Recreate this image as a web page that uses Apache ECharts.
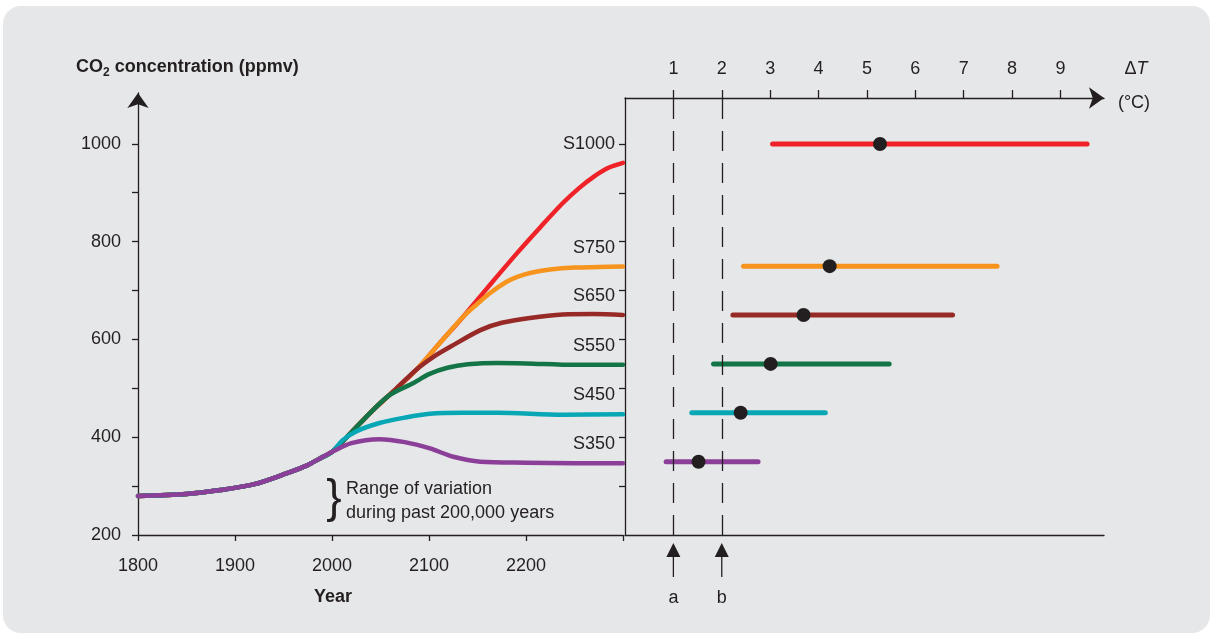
<!DOCTYPE html>
<html><head><meta charset="utf-8">
<script src="https://cdn.jsdelivr.net/npm/echarts@6/dist/echarts.min.js"></script>
<style>
html,body{margin:0;padding:0;background:#fff;width:1212px;height:635px;overflow:hidden}
#bg{position:absolute;left:3px;top:6px;width:1207px;height:627px;background:#e6e7e9;border-radius:18px}
#chart{position:absolute;left:0;top:0;width:1212px;height:635px}
</style></head><body><div id="bg"></div><div id="chart"></div>
<script>
// ---- data ----
const histYears = [1800, 1850, 1885, 1920, 1953, 1975, 1988, 2000];
const histCO2   = [280, 284, 292, 304, 326, 343, 357, 370];

const s1000Years = [2020, 2042, 2065, 2088, 2110, 2135, 2160, 2191, 2215, 2238, 2255, 2270, 2285, 2300];
const s1000CO2   = [410, 455, 497, 540, 590, 646, 705, 777, 830, 879, 910, 933, 951, 961];
const s750Years  = [2020, 2042, 2065, 2088, 2110, 2135, 2150, 2163, 2180, 2191, 2204, 2225, 2250, 2275, 2300];
const s750CO2    = [410, 455, 497, 540, 590, 646, 673, 695, 718, 728, 736, 743, 747, 748, 749];
const s650Years  = [2020, 2042, 2065, 2088, 2105, 2122, 2153, 2175, 2204, 2238, 2270, 2300];
const s650CO2    = [410, 455, 497, 540, 565, 585, 619, 634, 644, 651, 652, 650];
const s550Years  = [2020, 2042, 2060, 2084, 2100, 2119, 2140, 2170, 2200, 2250, 2300];
const s550CO2    = [410, 455, 487, 511, 529, 542, 549, 552, 551, 548, 548];
const s450Years  = [2011, 2025, 2049, 2075, 2101, 2135, 2170, 2238, 2300];
const s450CO2    = [394, 412, 429, 440, 448, 450, 450, 446, 447];
const s350Years  = [2020, 2049, 2075, 2101, 2125, 2153, 2200, 2250, 2300];
const s350CO2    = [388, 396, 390, 377, 360, 350, 348, 347, 347];

const scenarios   = ['S1000', 'S750', 'S650', 'S550', 'S450', 'S350'];
const scenarioCO2 = [1000, 750, 650, 550, 450, 350];
const dtLow  = [3.05, 2.45, 2.23, 1.83, 1.38, 0.85];
const dtHigh = [9.55, 7.69, 6.77, 5.46, 4.14, 2.75];
const dtBest = [5.27, 4.23, 3.69, 3.01, 2.39, 1.52];
const markers = ['a', 'b'];
const markerDT = [1, 2];

const yTicks = [200, 300, 400, 500, 600, 700, 800, 900, 1000];
const yLabels = [200, 400, 600, 800, 1000];
const xTicks = [1800, 1900, 2000, 2100, 2200, 2300];
const xLabels = [1800, 1900, 2000, 2100, 2200];
const dtTicks = [1, 2, 3, 4, 5, 6, 7, 8, 9];
const rightYTicks = [300, 400, 500, 600, 700, 800, 900, 1000];

// ---- style ----
const colors = ['#ee2227', '#f7941e', '#972a27', '#137547', '#08a7b5', '#8c3f98'];
const INK = '#231f20';
const FONT = "'Liberation Sans Narrow','Liberation Sans',Arial,sans-serif";
const FS = 18;

const seriesYears = [s1000Years, s750Years, s650Years, s550Years, s450Years, s350Years];
const seriesCO2 = [s1000CO2, s750CO2, s650CO2, s550CO2, s450CO2, s350CO2];

const chart = echarts.init(document.getElementById('chart'), null, {renderer: 'canvas'});

const series = [];
scenarios.forEach((name, k) => {
  const ys = histYears.concat(seriesYears[k]);
  const vs = histCO2.concat(seriesCO2[k]);
  const data = ys.map((y, i) => [y, vs[i]]);
  const last = data.length - 1;
  data[last] = {value: data[last], label: {show: true, formatter: name}};
  series.push({
    type: 'line', name, xAxisIndex: 0, yAxisIndex: 0,
    data, smooth: 0.3,
    showSymbol: true, symbolSize: 0, symbol: 'circle',
    lineStyle: {color: colors[k], width: 4.5, cap: 'round', join: 'round'},
    itemStyle: {color: colors[k]},
    label: {show: false, position: 'top', align: 'right', offset: [-8, -5],
            color: INK, fontSize: FS, fontFamily: FONT},
    emphasis: {disabled: true}, silent: true, z: 2 + k
  });
});
scenarios.forEach((name, k) => {
  series.push({
    type: 'line', name: name + ' range', xAxisIndex: 1, yAxisIndex: 1,
    data: [[dtLow[k], scenarioCO2[k]], [dtHigh[k], scenarioCO2[k]]],
    symbol: 'none',
    lineStyle: {color: colors[k], width: 5, cap: 'round'},
    emphasis: {disabled: true}, silent: true, z: 3
  });
});
series.push({
  type: 'scatter', name: 'best', xAxisIndex: 1, yAxisIndex: 1,
  data: dtBest.map((d, k) => [d, scenarioCO2[k]]),
  symbolSize: 14, itemStyle: {color: INK, opacity: 1},
  emphasis: {disabled: true}, silent: true, z: 5,
  markLine: {
    silent: true, symbol: 'none', label: {show: false},
    lineStyle: {color: INK, width: 1.3, type: [20, 12]},
    data: markerDT.map(v => ({xAxis: v}))
  }
});

const axisLineStyle = {color: INK, width: 1.3};
const labelStyle = {color: INK, fontSize: FS, fontFamily: FONT, formatter: v => String(v)};

chart.setOption({
  animation: false,
  grid: [
    {left: 138, right: 589, top: 93, bottom: 100},
    {left: 625, right: 108, top: 98, bottom: 100}
  ],
  xAxis: [
    {type: 'value', gridIndex: 0, min: 1800, max: 2300, interval: 100,
     axisLine: {lineStyle: axisLineStyle},
     axisTick: {length: 6, lineStyle: axisLineStyle, customValues: xTicks},
     axisLabel: Object.assign({margin: 22, customValues: xLabels}, labelStyle),
     splitLine: {show: false}},
    {type: 'value', gridIndex: 1, position: 'bottom', min: 0, max: 9.9,
     axisLine: {lineStyle: axisLineStyle}, axisTick: {show: false},
     axisLabel: {show: false}, splitLine: {show: false}},
    {type: 'value', gridIndex: 1, position: 'top', min: 0, max: 9.9, interval: 1,
     axisLine: {lineStyle: axisLineStyle, symbol: ['none', 'arrow'], symbolSize: [16, 15]},
     axisTick: {length: 8, lineStyle: axisLineStyle, customValues: dtTicks},
     axisLabel: Object.assign({margin: 20, customValues: dtTicks}, labelStyle),
     splitLine: {show: false}}
  ],
  yAxis: [
    {type: 'value', gridIndex: 0, min: 200, max: 1104, interval: 100,
     axisLine: {show: true, lineStyle: axisLineStyle, symbol: ['none', 'arrow'], symbolSize: [16, 15]},
     axisTick: {show: true, length: 6, lineStyle: axisLineStyle, customValues: yTicks},
     axisLabel: Object.assign({margin: 17, customValues: yLabels}, labelStyle),
     splitLine: {show: false}},
    {type: 'value', gridIndex: 1, min: 200, max: 1094, interval: 100, offset: 2,
     axisLine: {show: true, lineStyle: axisLineStyle},
     axisTick: {show: true, length: 6, lineStyle: axisLineStyle, customValues: rightYTicks},
     axisLabel: {show: false}, splitLine: {show: false}}
  ],
  series
});

// annotation graphics (positions of a/b arrows derived from the axis scale)
const graphics = [
  {type: 'text', left: 76, top: 58, style: {
    text: '{a|CO}{s|2}{a| concentration (ppmv)}',
    rich: {
      a: {fontSize: 18, fontWeight: 'bold', fontFamily: FONT, fill: INK, lineHeight: 24},
      s: {fontSize: 12, fontWeight: 'bold', fontFamily: FONT, fill: INK, lineHeight: 24, verticalAlign: 'bottom'}
    }}},
  {type: 'text', x: 333, y: 597, style: {text: 'Year', fontSize: FS, fontWeight: 'bold', fontFamily: FONT, fill: INK, align: 'center', verticalAlign: 'middle'}},
  {type: 'text', x: 1136, y: 69, style: {text: '{d|Δ}{t|T}', align: 'center', verticalAlign: 'middle',
    rich: {d: {fontSize: FS, fontFamily: FONT, fill: INK}, t: {fontSize: FS, fontStyle: 'italic', fontFamily: FONT, fill: INK}}}},
  {type: 'text', x: 1134, y: 103, style: {text: '(°C)', fontSize: FS, fontFamily: FONT, fill: INK, align: 'center', verticalAlign: 'middle'}},
  {type: 'text', x: 334, y: 499, style: {text: '}', fontSize: 46, fontWeight: 'normal', fontFamily: FONT, fill: INK, align: 'center', verticalAlign: 'middle'}},
  {type: 'text', x: 346, y: 489, style: {text: 'Range of variation', fontSize: FS, fontFamily: FONT, fill: INK, align: 'left', verticalAlign: 'middle'}},
  {type: 'text', x: 346, y: 513, style: {text: 'during past 200,000 years', fontSize: FS, fontFamily: FONT, fill: INK, align: 'left', verticalAlign: 'middle'}}
];
markers.forEach((m, i) => {
  const px = chart.convertToPixel({xAxisIndex: 1}, markerDT[i]);
  graphics.push(
    {type: 'polygon', shape: {points: [[px, 543], [px - 7, 557], [px + 7, 557]]}, style: {fill: INK}},
    {type: 'line', shape: {x1: px, y1: 556, x2: px, y2: 577}, style: {stroke: INK, lineWidth: 1.3}},
    {type: 'text', x: px, y: 598, style: {text: m, fontSize: FS, fontFamily: FONT, fill: INK, align: 'center', verticalAlign: 'middle'}}
  );
});
chart.setOption({graphic: graphics});
</script>
</body></html>
